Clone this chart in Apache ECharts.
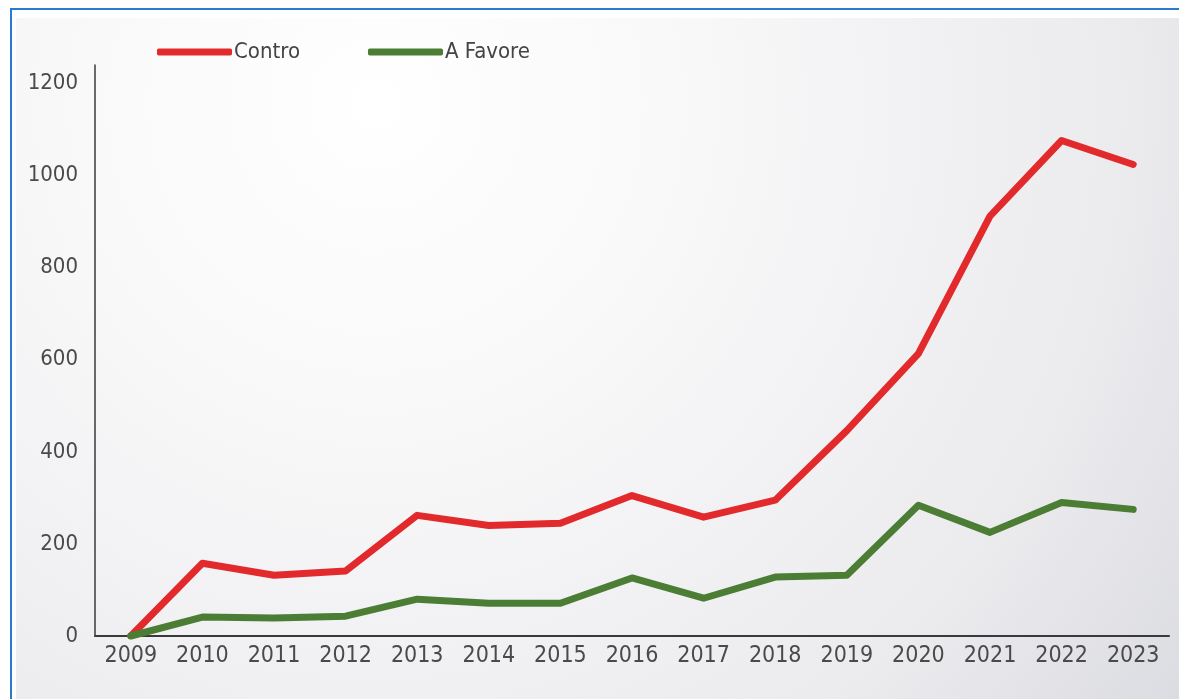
<!DOCTYPE html>
<html>
<head>
<meta charset="utf-8">
<script src="https://cdn.jsdelivr.net/npm/echarts@6/dist/echarts.min.js"></script>
<style>
  html, body { margin: 0; padding: 0; background: #ffffff; }
  #chart { width: 1179px; height: 699px; }
</style>
</head>
<body>
<div id="chart"></div>
<script>
const years = ['2009','2010','2011','2012','2013','2014','2015','2016','2017','2018','2019','2020','2021','2022','2023'];
const contro = [0, 158, 132, 141, 262, 240, 245, 305, 258, 295, 446, 613, 912, 1076, 1024];
const aFavore = [0, 41, 39, 43, 80, 71, 71, 126, 82, 128, 132, 284, 225, 290, 275];
const seriesNames = ['Contro', 'A Favore'];

const FONT = '"DejaVu Sans Condensed", "Liberation Sans Narrow", sans-serif';
const chart = echarts.init(document.getElementById('chart'), null, { renderer: 'canvas' });

chart.setOption({
  backgroundColor: '#ffffff',
  animation: false,
  graphic: [
    {
      type: 'rect', z: -10, silent: true,
      shape: { x: 16, y: 18, width: 1200, height: 720 },
      style: {
        fill: {
          type: 'radial', x: 0.3, y: 0.12, r: 1.5,
          colorStops: [
            { offset: 0, color: '#ffffff' },
            { offset: 0.3, color: '#f8f8f9' },
            { offset: 0.7, color: '#ebebee' },
            { offset: 1, color: '#d6d7dd' }
          ]
        }
      }
    },
    {
      type: 'rect', z: -9, silent: true,
      shape: { x: 11, y: 9, width: 1220, height: 740 },
      style: { fill: 'none', stroke: '#2b7bcc', lineWidth: 2 }
    }
  ],
  legend: {
    left: 152, top: 36,
    itemWidth: 75, itemHeight: 7, itemGap: 68,
    icon: 'roundRect',
    data: seriesNames,
    textStyle: { fontFamily: FONT, fontSize: 22, color: '#444444', padding: [0, 0, 0, -3] }
  },
  grid: { left: 95, right: 10, top: 65, bottom: 63, containLabel: false },
  xAxis: {
    type: 'category',
    data: years,
    boundaryGap: true,
    axisLine: { show: true, lineStyle: { color: '#3a3a3a', width: 2 } },
    axisTick: { show: false },
    axisLabel: { fontFamily: FONT, fontSize: 23, color: '#4a4a4a', margin: 9, interval: 0 },
    splitLine: { show: false }
  },
  yAxis: {
    type: 'value',
    min: 0, max: 1240, interval: 200,
    axisLine: { show: true, lineStyle: { color: '#3a3a3a', width: 1.5 } },
    axisTick: { show: false },
    axisLabel: {
      fontFamily: FONT, fontSize: 22, color: '#4a4a4a', margin: 17, showMaxLabel: false,
      formatter: function (v) { return String(v); }
    },
    splitLine: { show: false }
  },
  series: [
    {
      name: seriesNames[0], type: 'line', data: contro,
      symbol: 'none', color: '#e22a2c',
      lineStyle: { width: 7, color: '#e22a2c', cap: 'round', join: 'round' }
    },
    {
      name: seriesNames[1], type: 'line', data: aFavore,
      symbol: 'none', color: '#4b7d34',
      lineStyle: { width: 7, color: '#4b7d34', cap: 'round', join: 'round' }
    }
  ]
});
</script>
</body>
</html>
